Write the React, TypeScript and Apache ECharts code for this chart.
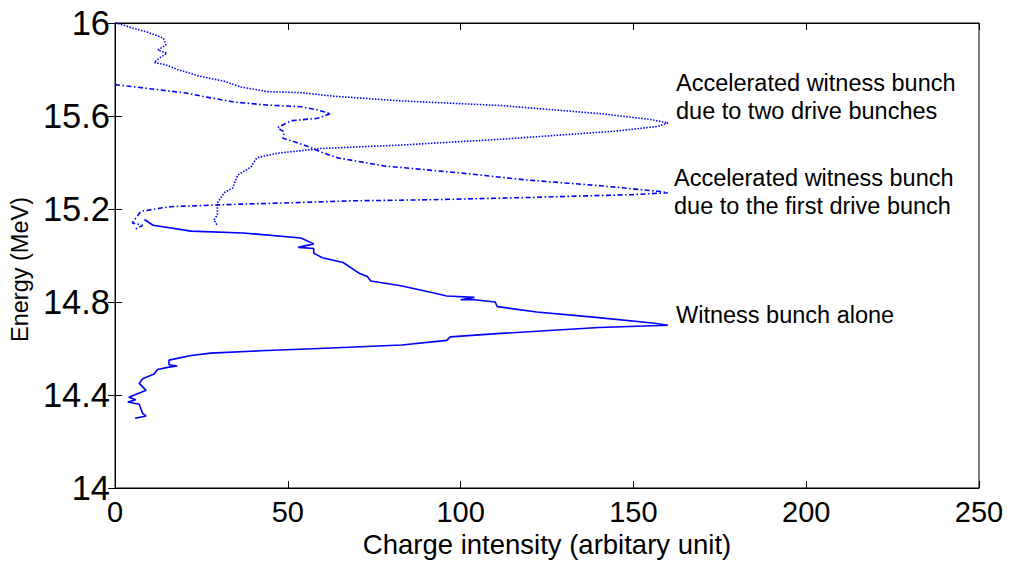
import React, { useEffect, useRef } from "react";
import * as echarts from "echarts";

const xTicks = [0, 50, 100, 150, 200, 250];
const yTicks = [14, 14.4, 14.8, 15.2, 15.6, 16];

// Witness bunch alone (solid)
const witnessAlone: number[][] = [
  [5.8, 14.3], [9, 14.31], [8, 14.32], [7, 14.36], [3.7, 14.37], [6, 14.38], [4, 14.39],
  [9, 14.42], [7, 14.45], [8, 14.47], [11.3, 14.49], [12.3, 14.51], [15.6, 14.52],
  [18, 14.525], [15.6, 14.53], [15.6, 14.55], [22, 14.57], [27.7, 14.58], [42, 14.59],
  [59, 14.6], [83, 14.615], [96, 14.635], [97, 14.65], [111.6, 14.665], [140, 14.69],
  [160, 14.7], [155.5, 14.71], [138.4, 14.735], [122, 14.757], [110.6, 14.78], [110, 14.8],
  [104, 14.81], [100, 14.81], [104, 14.82], [96, 14.826], [92, 14.84], [82.7, 14.87],
  [74, 14.89], [73, 14.91], [70.5, 14.925], [66, 14.97], [60, 14.99], [57.5, 15.01],
  [57.5, 15.03], [53, 15.035], [57.5, 15.05], [53.8, 15.075], [37, 15.097], [22, 15.105],
  [11, 15.13], [8.5, 15.155],
];

// Accelerated witness bunch due to the first drive bunch (dash-dot)
const firstDrive: number[][] = [
  [0, 15.735], [8.5, 15.72], [20, 15.7], [27, 15.68], [34.5, 15.66], [44, 15.647],
  [53.8, 15.64], [58.6, 15.626], [62.4, 15.61], [58.6, 15.59], [51, 15.58], [47, 15.55],
  [49, 15.53], [48.5, 15.505], [51.7, 15.49], [55.7, 15.47], [59.5, 15.445], [64.4, 15.42],
  [78, 15.385], [100, 15.355], [119, 15.325], [140.5, 15.3], [158, 15.275], [160, 15.27],
  [150, 15.262], [121, 15.25], [92, 15.24], [68, 15.235], [53.8, 15.228], [34.5, 15.22],
  [16, 15.21], [13.3, 15.204], [7.5, 15.19], [5, 15.14], [8, 15.13], [5.5, 15.11],
];

// Accelerated witness bunch due to two drive bunches (dotted)
const twoDrive: number[][] = [
  [0, 16], [2.7, 15.99], [4.6, 15.98], [9.5, 15.96], [11.3, 15.95], [14, 15.935],
  [14.7, 15.905], [12.4, 15.884], [15, 15.87], [13.3, 15.854], [11.3, 15.83], [14.7, 15.82],
  [18, 15.8], [24.8, 15.77], [31.5, 15.75], [36.4, 15.725], [44, 15.705], [53.8, 15.7],
  [63.4, 15.685], [82.7, 15.665], [111.6, 15.645], [140.5, 15.61], [155, 15.585],
  [160, 15.57], [157, 15.555], [145, 15.535], [111.6, 15.5], [82.7, 15.475], [59.5, 15.46],
  [47, 15.44], [41, 15.42], [39.3, 15.38], [35.5, 15.346], [34, 15.29], [31.6, 15.27],
  [29.6, 15.226], [29.6, 15.175], [28.6, 15.153], [29.6, 15.13],
];

const annotations = [
  { text: "Accelerated witness bunch\ndue to two drive bunches", x: 676, y: 69 },
  { text: "Accelerated witness bunch\ndue to the first drive bunch", x: 674, y: 164 },
  { text: "Witness bunch alone", x: 676, y: 301 },
];

const FONT = "'Liberation Sans', Arial, sans-serif";
const BLUE = "#0000ff";

export default function App() {
  const ref = useRef<HTMLDivElement>(null);
  useEffect(() => {
    if (!ref.current) return;
    const chart = echarts.init(ref.current, null, { renderer: "svg" });
    const axisLine = { show: true, lineStyle: { color: "#000", width: 1 } };
    const tick = { show: true, inside: true, length: 7, lineStyle: { color: "#000" } };
    chart.setOption({
      animation: false,
      backgroundColor: "#fff",
      textStyle: { fontFamily: FONT },
      grid: { left: 114, right: 38, top: 23, bottom: 77, show: true, borderColor: "#000", borderWidth: 1 },
      xAxis: [
        {
          type: "value", min: xTicks[0], max: xTicks[xTicks.length - 1], interval: 50,
          axisLine, axisTick: tick, splitLine: { show: false },
          axisLabel: { fontSize: 29, color: "#000", margin: 9, fontFamily: FONT },
          name: "Charge intensity (arbitary unit)", nameLocation: "middle", nameGap: 40,
          nameTextStyle: { fontSize: 27.5, color: "#000", fontFamily: FONT },
        },
        {
          type: "value", position: "top", min: 0, max: 250, interval: 50,
          axisLine, axisTick: tick, axisLabel: { show: false }, splitLine: { show: false },
        },
      ],
      yAxis: [
        {
          type: "value", min: yTicks[0], max: yTicks[yTicks.length - 1], interval: 0.4,
          axisLine, axisTick: tick, splitLine: { show: false },
          axisLabel: { fontSize: 34.5, color: "#000", margin: 5, fontFamily: FONT },
          name: "Energy (MeV)", nameLocation: "middle", nameRotate: 90, nameGap: 82,
          nameTextStyle: { fontSize: 23.5, color: "#000", fontFamily: FONT, padding: [0, 28, 0, 0] },
        },
        {
          type: "value", position: "right", min: 14, max: 16, interval: 0.4,
          axisLine, axisTick: tick, axisLabel: { show: false }, splitLine: { show: false },
        },
      ],
      series: [
        {
          name: "Witness bunch alone", type: "line", data: witnessAlone, showSymbol: false,
          lineStyle: { color: BLUE, width: 1.6, type: "solid" },
        },
        {
          name: "Accelerated witness bunch due to the first drive bunch", type: "line",
          data: firstDrive, showSymbol: false,
          lineStyle: { color: BLUE, width: 1.6, type: [5, 2.5, 1.5, 2.5] },
        },
        {
          name: "Accelerated witness bunch due to two drive bunches", type: "line",
          data: twoDrive, showSymbol: false,
          lineStyle: { color: BLUE, width: 1.6, type: [1.5, 1.5] },
        },
      ],
      graphic: annotations.map((a) => ({
        type: "text", left: a.x, top: a.y,
        style: { text: a.text, fontSize: 23.5, lineHeight: 28, fill: "#000", fontFamily: FONT },
      })),
    });
    return () => chart.dispose();
  }, []);
  return (
    <div
      ref={ref}
      style={{ position: "fixed", left: 0, top: 0, width: 1017, height: 565, background: "#fff" }}
    />
  );
}
